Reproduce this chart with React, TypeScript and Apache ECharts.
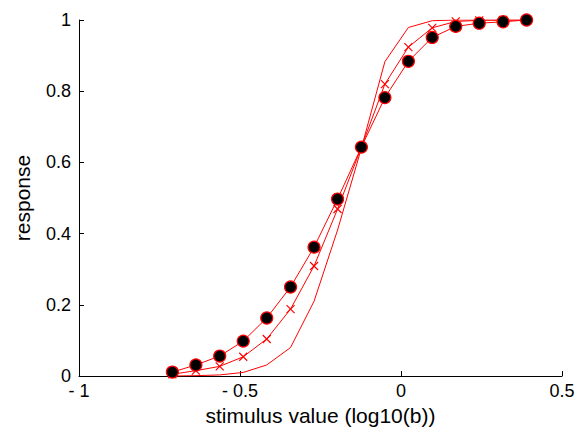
import React, { useEffect, useRef } from "react";
import * as echarts from "echarts";

const xValues = [-0.71, -0.637, -0.563, -0.49, -0.417, -0.343, -0.27, -0.197, -0.123, -0.05, 0.023, 0.097, 0.17, 0.243, 0.317, 0.39];
const dotValues = [0.011, 0.031, 0.056, 0.098, 0.163, 0.25, 0.362, 0.497, 0.643, 0.782, 0.884, 0.951, 0.982, 0.991, 0.995, 1.0];
const crossValues = [0.005, 0.015, 0.027, 0.054, 0.104, 0.188, 0.309, 0.469, 0.643, 0.82, 0.924, 0.978, 0.996, 0.999, 1.0, 1.0];
const curveValues = [0.0, 0.001, 0.003, 0.01, 0.031, 0.08, 0.21, 0.41, 0.64, 0.883, 0.979, 0.998, 1.0, 1.0, 1.0, 1.0];

const xTitle = "stimulus value (log10(b))";
const yTitle = "response";

const pairs = (ys: number[]) => xValues.map((x, i) => [x, ys[i]]);

export default function App() {
  const ref = useRef<HTMLDivElement>(null);
  useEffect(() => {
    if (!ref.current) return;
    const chart = echarts.init(ref.current, undefined, { renderer: "svg" });
    const font = "Liberation Sans, Arial, Helvetica, sans-serif";
    chart.setOption({
      animation: false,
      backgroundColor: "#fff",
      grid: { left: 79, right: 17, top: 20, bottom: 55, containLabel: false },
      xAxis: {
        type: "value",
        min: -1,
        max: 0.5,
        interval: 0.5,
        name: xTitle,
        nameLocation: "middle",
        nameGap: 24,
        nameTextStyle: { color: "#000", fontSize: 21, fontFamily: font },
        axisLine: { onZero: false, lineStyle: { color: "#000", width: 1 } },
        axisTick: { inside: true, length: 5, lineStyle: { color: "#000" } },
        axisLabel: {
          color: "#000",
          fontSize: 18,
          fontFamily: font,
          margin: 6,
          formatter: (v: number) => (v < 0 ? "- " + Math.abs(v) : String(v)),
        },
        splitLine: { show: false },
      },
      yAxis: {
        type: "value",
        min: 0,
        max: 1,
        interval: 0.2,
        name: yTitle,
        nameLocation: "middle",
        nameGap: 46,
        nameTextStyle: { color: "#000", fontSize: 21, fontFamily: font },
        axisLine: { show: true, onZero: false, lineStyle: { color: "#000", width: 1 } },
        axisTick: { show: true, inside: true, length: 5, lineStyle: { color: "#000" } },
        axisLabel: { color: "#000", fontSize: 18, fontFamily: font, margin: 8 },
        splitLine: { show: false },
      },
      series: [
        {
          type: "line",
          data: pairs(curveValues),
          showSymbol: false,
          symbol: "none",
          lineStyle: { color: "#ff0000", width: 1 },
          z: 2,
        },
        {
          type: "line",
          data: pairs(crossValues),
          symbol: "path://M0,0L10,10M10,0L0,10",
          symbolSize: 8,
          lineStyle: { color: "#ff0000", width: 1 },
          itemStyle: { color: "none", borderColor: "#ff0000", borderWidth: 1.2 },
          z: 3,
        },
        {
          type: "line",
          data: pairs(dotValues),
          symbol: "circle",
          symbolSize: 12,
          lineStyle: { color: "#ff0000", width: 1 },
          itemStyle: { color: "#000", borderColor: "#ff0000", borderWidth: 1.2 },
          z: 4,
        },
      ],
    });
    return () => chart.dispose();
  }, []);
  return (
    <div
      ref={ref}
      style={{ position: "fixed", left: 0, top: 0, width: 579, height: 431, background: "#fff" }}
    />
  );
}
